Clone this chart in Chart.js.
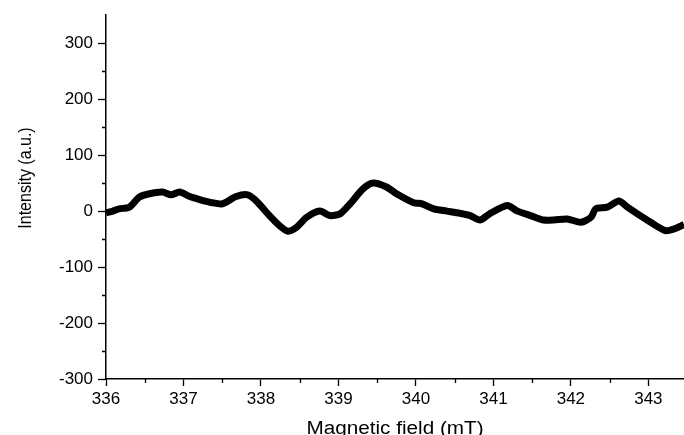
<!DOCTYPE html>
<html>
<head>
<meta charset="utf-8">
<script src="https://cdn.jsdelivr.net/npm/chart.js@4/dist/chart.umd.min.js"></script>
<style>
  html, body { margin:0; padding:0; background:#fff; }
  #wrap { width:684px; height:435px; }
</style>
</head>
<body>
<div id="wrap"><canvas id="chart-epr" width="684" height="435"></canvas></div>
<script>
// EPR spectrum
const fieldMt = [
  336.00, 336.09, 336.17, 336.30, 336.43, 336.56, 336.73, 336.84, 336.95, 337.08,
  337.20, 337.37, 337.50, 337.68, 337.83, 337.94, 338.11, 338.24, 338.35, 338.46,
  338.59, 338.76, 338.89, 339.02, 339.15, 339.32, 339.45, 339.62, 339.75, 339.97,
  340.08, 340.23, 340.40, 340.57, 340.70, 340.83, 340.96, 341.18, 341.31, 341.48,
  341.65, 341.78, 341.95, 342.13, 342.26, 342.32, 342.47, 342.62, 342.73, 342.86,
  343.03, 343.22, 343.33, 343.46
];
const intensity = [
  -3, 0, 4, 7, 25, 31, 34, 29, 34, 26,
  21, 15, 13, 26, 29, 18, -8, -26, -36, -29,
  -11, 0, -8, -5, 13, 40, 50, 43, 31, 15,
  13, 4, 0, -4, -8, -16, -4, 10, 0, -8,
  -16, -16, -14, -20, -11, 4, 7, 18, 7, -5,
  -20, -35, -32, -24
];
const xMajorTicks = [336, 337, 338, 339, 340, 341, 342, 343];
const xMinorTicks = [336.5, 337.5, 338.5, 339.5, 340.5, 341.5, 342.5];
const yMajorTicks = [-300, -200, -100, 0, 100, 200, 300];
const yMinorTicks = [-250, -150, -50, 50, 150, 250];
const xTitle = 'Magnetic field (mT)';
const yTitle = 'Intensity (a.u.)';

(function(){
    const font = "'Liberation Sans', Arial, sans-serif";

    // short minor ticks + axis titles (titles a bit wide, like the original export)
    const axisDecor = {
        id:'axisDecor',
        afterDraw(chart){
            const { ctx, chartArea, scales } = chart;
            ctx.save();
            ctx.strokeStyle = '#000';
            ctx.lineWidth = 1.3;
            ctx.beginPath();
            xMinorTicks.forEach(v => {
                const px = Math.round(scales.x.getPixelForValue(v)) + 0.5;
                ctx.moveTo(px, chartArea.bottom);
                ctx.lineTo(px, chartArea.bottom + 4);
            });
            yMinorTicks.forEach(v => {
                const py = Math.round(scales.y.getPixelForValue(v)) + 0.5;
                ctx.moveTo(chartArea.left, py);
                ctx.lineTo(chartArea.left - 4, py);
            });
            ctx.stroke();
            ctx.restore();

            ctx.save();
            ctx.fillStyle = '#000';
            ctx.textAlign = 'center';
            ctx.textBaseline = 'alphabetic';
            ctx.translate((chartArea.left + chartArea.right) / 2, 434);
            ctx.scale(1.15, 1);
            ctx.font = `18px ${font}`;
            ctx.fillText(xTitle, 0, 0);
            ctx.restore();

            ctx.save();
            ctx.fillStyle = '#000';
            ctx.textAlign = 'center';
            ctx.textBaseline = 'alphabetic';
            ctx.translate(31, 178);
            ctx.rotate(-Math.PI / 2);
            ctx.scale(1, 1.2);
            ctx.font = `16px ${font}`;
            ctx.fillText(yTitle, 0, 0);
            ctx.restore();
        }
    };

    const points = fieldMt.map((f, i) => ({ x: f, y: intensity[i] }));

    new Chart(document.getElementById('chart-epr'), {
        type:'line',
        data:{ datasets:[{ data: points, borderColor:'#000', backgroundColor:'#000', borderWidth:7, pointRadius:0, tension:0.25, fill:false }]},
        options:{
            responsive:false,
            animation:false,
            layout:{ padding:{ top:13, right:0, left:0, bottom:0 } },
            plugins:{ legend:{ display:false }, tooltip:{ enabled:false } },
            scales:{
                x:{
                    type:'linear', min:336, max:343.46,
                    afterBuildTicks(s){ s.ticks = xMajorTicks.map(v => ({ value:v })); },
                    afterFit(s){ s.height = 56; },
                    border:{ display:true, color:'#000', width:1.5 },
                    grid:{ drawOnChartArea:false, drawTicks:true, tickLength:7, tickColor:'#000', tickWidth:1.3 },
                    ticks:{ padding:3, color:'#000', font:{ family:font, size:17 }, maxRotation:0, autoSkip:false, callback:v => String(v) }
                },
                y:{
                    type:'linear', min:-300, max:350,
                    afterBuildTicks(s){ s.ticks = yMajorTicks.map(v => ({ value:v })); },
                    afterFit(s){ s.width = 106; },
                    border:{ display:true, color:'#000', width:1.5 },
                    grid:{ drawOnChartArea:false, drawTicks:true, tickLength:8, tickColor:'#000', tickWidth:1.3 },
                    ticks:{ padding:5, color:'#000', font:{ family:font, size:17 }, autoSkip:false, callback:v => String(v) }
                }
            }
        },
        plugins:[axisDecor]
    });
})();
</script>
</body>
</html>
